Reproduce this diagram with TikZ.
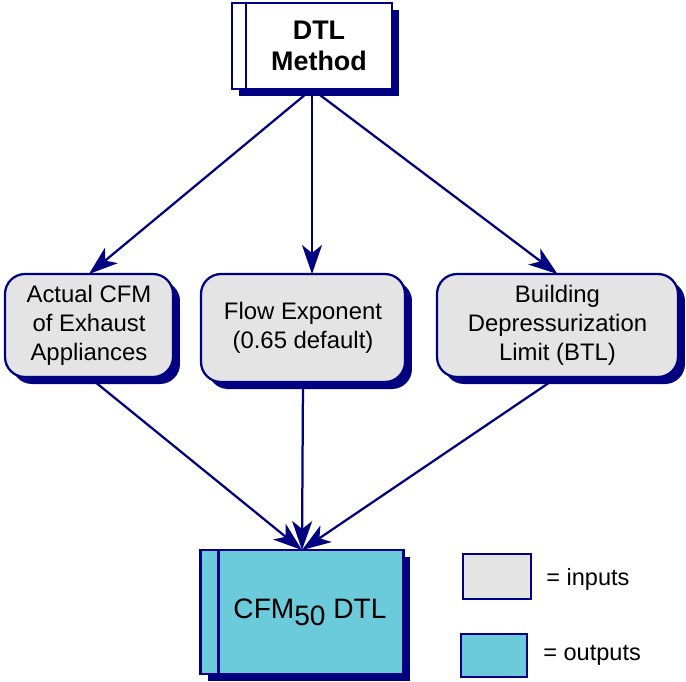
\documentclass[tikz,border=0pt]{standalone}
\usepackage{fontspec}
\setmainfont{Liberation Sans}
\usetikzlibrary{arrows.meta,shadows}
\definecolor{dtlnavy}{RGB}{0,0,128}
\definecolor{inputgray}{RGB}{229,228,228}
\definecolor{outputcyan}{RGB}{108,203,219}

\begin{document}
\begin{tikzpicture}[x=0.02cm, y=-0.02cm,
            boxshadow/.style={drop shadow={shadow xshift=0.14cm, shadow yshift=-0.14cm, fill=dtlnavy, opacity=1}},
            inputbox/.style={shape=rectangle, rounded corners=0.4cm, draw=dtlnavy, line width=0.045cm, outer sep=0, fill=inputgray, boxshadow, align=center, font=\fontsize{13.6}{16.5}\selectfont},
            framebox/.style={shape=rectangle, draw=dtlnavy, line width=0.045cm, outer sep=0, boxshadow},
            legendbox/.style={shape=rectangle, draw=dtlnavy, line width=0.045cm, outer sep=0},
            legendtext/.style={anchor=base west, inner sep=0, font=\fontsize{13.4}{16.5}\selectfont},
            flowarrow/.style={dtlnavy, line width=0.045cm, shorten <=0.14cm, -{Stealth[length=0.58cm, width=0.4cm, inset=0.16cm]}}]

            \useasboundingbox (0, 0) rectangle (686, 681);

            \node[framebox, fill=white, minimum width=3.2cm, minimum height=1.72cm] (dtl) at (312, 46) {};
            \draw[dtlnavy, line width=0.045cm] ([xshift=0.28cm]dtl.north west) -- ([xshift=0.28cm]dtl.south west);
            \node[align=center, font=\fontsize{15.3}{17.8}\selectfont\bfseries] (dtltext) at ([xshift=0.14cm]dtl.center) {DTL\\Method};

            \node[inputbox, minimum width=3.36cm, minimum height=2.06cm] (actual) at (89, 325.5) {Actual CFM\\of Exhaust\\Appliances};
            \node[inputbox, minimum width=4.08cm, minimum height=2.16cm] (flow) at (303, 328) {Flow Exponent\\(0.65 default)};
            \node[inputbox, minimum width=4.82cm, minimum height=2.06cm] (btl) at (557.5, 325.5) {Building\\Depressurization\\Limit (BTL)};

            \node[framebox, fill=outputcyan, minimum width=4.06cm, minimum height=2.48cm] (cfm) at (302, 612) {};
            \draw[dtlnavy, line width=0.045cm] ([xshift=0.36cm]cfm.north west) -- ([xshift=0.36cm]cfm.south west);
            \node[font=\fontsize{16}{18}\selectfont] (cfmtext) at ([xshift=0.16cm]cfm.center) {CFM\raisebox{-4pt}{50} DTL};

            \node[legendbox, fill=inputgray, minimum width=1.36cm, minimum height=0.9cm] (inputkey) at (497, 576.5) {};
            \node[legendbox, fill=outputcyan, minimum width=1.32cm, minimum height=0.86cm] (outputkey) at (494, 655.5) {};
            \node[legendtext] (inputlabel) at (546, 585) {= inputs};
            \node[legendtext] (outputlabel) at (543, 660) {= outputs};

            \draw[flowarrow] (dtl.south) -- (actual.north);
            \draw[flowarrow] (dtl.south) -- (dtl.south |- flow.north);
            \draw[flowarrow] (dtl.south) -- (btl.north);
            \draw[flowarrow] (actual.south) -- (cfm.north);
            \draw[flowarrow] (flow.south) -- (cfm.north);
            \draw[flowarrow] (btl.south) -- (cfm.north);

        \end{tikzpicture}
\end{document}
